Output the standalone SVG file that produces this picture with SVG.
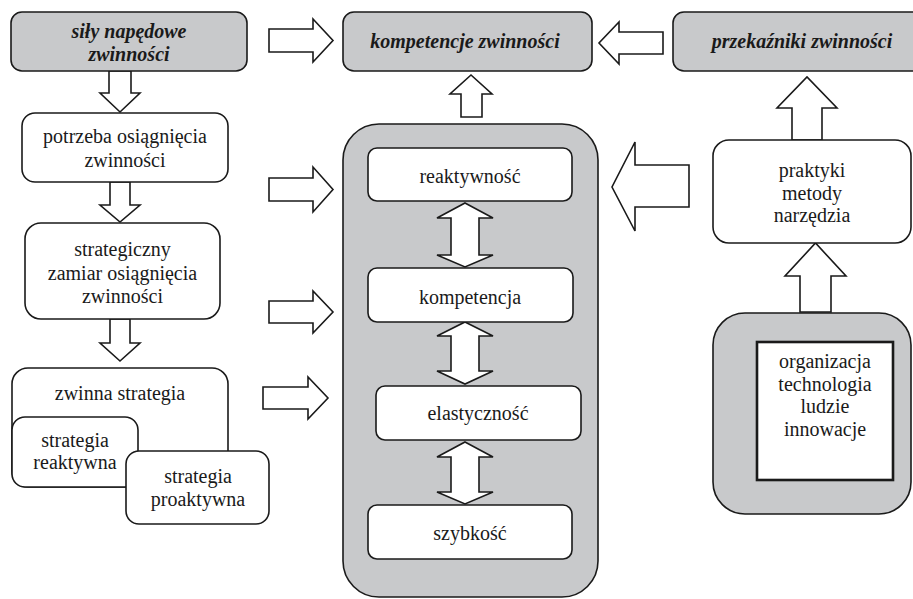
<svg xmlns="http://www.w3.org/2000/svg" width="913" height="599" viewBox="0 0 913 599">
<style>
.box{fill:#ffffff;stroke:#1a1a1a;stroke-width:1.6}
.gray{fill:#c8c9cb;stroke:#1a1a1a;stroke-width:1.6}
.inner{fill:#ffffff;stroke:#1a1a1a;stroke-width:2.6}
.arrow{fill:#ffffff;stroke:#1a1a1a;stroke-width:1.6;stroke-linejoin:miter}
text{font-family:'Liberation Serif','Times New Roman','DejaVu Serif',serif;font-size:20px;fill:#1a1a1a;text-anchor:middle}
.bi{font-weight:bold;font-style:italic}
</style>
<rect width="913" height="599" fill="#ffffff"/>
<g id="container">
<rect class="gray" x="343" y="124" width="255" height="473" rx="36"/>
</g>
<g id="connectors">
<polygon class="arrow" points="269,29 313,29 313,19 333,40.5 313,62 313,52 269,52"/>
<polygon class="arrow" points="663,32 619,32 619,22 599,43 619,64 619,54 663,54"/>
<polygon class="arrow" points="461,117 461,94 450,94 471,75 492,94 482,94 482,117"/>
<polygon class="arrow" points="109,71 131,71 131,93 140,93 120,112 100,93 109,93"/>
<polygon class="arrow" points="110,182 130,182 130,205 140,205 120,222 100,205 110,205"/>
<polygon class="arrow" points="110,319 130,319 130,343 140,343 120,361 100,343 110,343"/>
<polygon class="arrow" points="269,178 313,178 313,167 333,189.5 313,212 313,201 269,201"/>
<polygon class="arrow" points="269,301 313,301 313,291 333,312 313,333 313,323 269,323"/>
<polygon class="arrow" points="263,387 308,387 308,377 328,398 308,419 308,409 263,409"/>
<polygon class="arrow" points="465,203 493,218 479,218 479,255 493,255 465,267 437,255 451,255 451,218 437,218"/>
<polygon class="arrow" points="465,322 493,336 479,336 479,371 493,371 465,384 437,371 451,371 451,336 437,336"/>
<polygon class="arrow" points="465,442 493,457 479,457 479,492 493,492 465,504 437,492 451,492 451,457 437,457"/>
<polygon class="arrow" points="689,165 635,165 635,142 612,187 635,231 635,207 689,207"/>
<polygon class="arrow" points="792,140 792,108 777,108 807,77 837,108 822,108 822,140"/>
<polygon class="arrow" points="800,312 800,276 785,276 815.5,243 846,276 831,276 831,312"/>
</g>
<g id="sily">
<rect class="gray" x="11" y="12" width="236" height="59" rx="11"/>
<text class="bi" x="129" y="38">siły napędowe</text>
<text class="bi" x="129" y="61">zwinności</text>
</g>
<g id="kompetencje-zwinnosci">
<rect class="gray" x="343" y="12" width="249" height="59" rx="11"/>
<text class="bi" x="465" y="48">kompetencje zwinności</text>
</g>
<g id="przekazniki">
<rect class="gray" x="673" y="12" width="260" height="59" rx="11"/>
<text class="bi" x="802" y="48">przekaźniki zwinności</text>
</g>
<g id="potrzeba">
<rect class="box" x="22" y="113" width="206" height="69" rx="13"/>
<text x="125" y="143">potrzeba osiągnięcia</text>
<text x="125" y="167">zwinności</text>
</g>
<g id="strategiczny">
<rect class="box" x="25" y="223" width="195" height="96" rx="16"/>
<text x="122.5" y="256">strategiczny</text>
<text x="122.5" y="279.5">zamiar osiągnięcia</text>
<text x="122.5" y="303">zwinności</text>
</g>
<g id="zwinna-strategia">
<rect class="box" x="12" y="368" width="216" height="119" rx="16"/>
<text x="120" y="400">zwinna strategia</text>
</g>
<g id="strategia-reaktywna">
<rect class="box" x="12" y="417" width="126" height="70" rx="13"/>
<text x="75" y="447">strategia</text>
<text x="75" y="469">reaktywna</text>
</g>
<g id="strategia-proaktywna">
<rect class="box" x="126" y="451" width="143" height="73" rx="13"/>
<text x="198" y="483">strategia</text>
<text x="198" y="506">proaktywna</text>
</g>
<g id="reaktywnosc">
<rect class="box" x="368" y="148" width="204" height="53" rx="9"/>
<text x="470" y="183">reaktywność</text>
</g>
<g id="kompetencja">
<rect class="box" x="368" y="268" width="205" height="54" rx="9"/>
<text x="470" y="304">kompetencja</text>
</g>
<g id="elastycznosc">
<rect class="box" x="376" y="386" width="205" height="54" rx="9"/>
<text x="478" y="420">elastyczność</text>
</g>
<g id="szybkosc">
<rect class="box" x="368" y="505" width="204" height="54" rx="9"/>
<text x="470" y="540">szybkość</text>
</g>
<g id="praktyki">
<rect class="box" x="713" y="140" width="198" height="103" rx="16"/>
<text x="812" y="177">praktyki</text>
<text x="812" y="199.5">metody</text>
<text x="812" y="222">narzędzia</text>
</g>
<g id="zasoby">
<rect class="gray" x="713" y="313" width="198" height="201" rx="32"/>
<rect class="inner" x="757" y="342" width="136" height="138"/>
<text x="825" y="368">organizacja</text>
<text x="825" y="391">technologia</text>
<text x="825" y="413">ludzie</text>
<text x="825" y="436">innowacje</text>
</g>
</svg>
